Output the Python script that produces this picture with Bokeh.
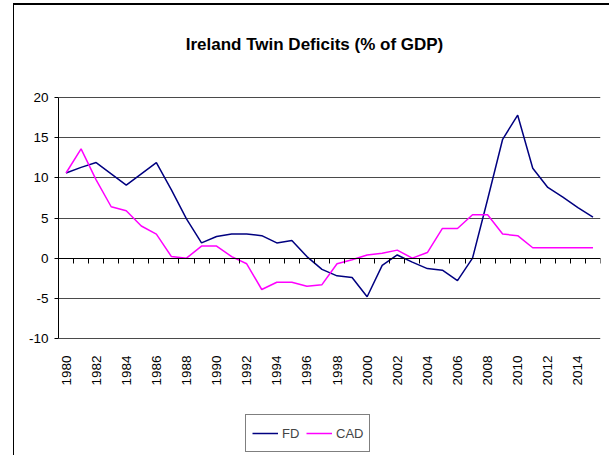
import math
from bokeh.plotting import figure
from bokeh.models import Range1d, FixedTicker, Label, Legend, LegendItem, LinearAxis
from bokeh.embed import file_html
from bokeh.resources import INLINE

# ---- data ----
years = list(range(1980, 2016))
fd = [10.6, 11.3, 11.9, 10.5, 9.1, 10.5, 11.9, 8.5, 4.9, 1.9,
      2.7, 3.0, 3.0, 2.8, 1.9, 2.2, 0.2, -1.4, -2.2, -2.4,
      -4.8, -0.9, 0.4, -0.5, -1.3, -1.5, -2.8, 0.0, 7.3, 14.8,
      17.8, 11.2, 8.8, 7.6, 6.3, 5.1]
cad = [10.6, 13.6, 9.75, 6.4, 5.9, 4.0, 3.0, 0.2, 0.0, 1.5,
       1.5, 0.2, -0.7, -3.9, -3.0, -3.0, -3.5, -3.3, -0.7, -0.2,
       0.4, 0.6, 1.0, 0.0, 0.7, 3.7, 3.7, 5.4, 5.4, 3.0,
       2.8, 1.3, 1.3, 1.3, 1.3, 1.3]
y_ticks = [-10, -5, 0, 5, 10, 15, 20]
x_label_years = years[::2]
title_text = "Ireland Twin Deficits (% of GDP)"
series_names = ["FD", "CAD"]

FONT = "Liberation Sans"

# ---- layout constants (page pixels) ----
PAGE_X, PAGE_Y = 14, 5            # figure position on the page
W, H = 610 - PAGE_X, 457 - PAGE_Y
PLOT_LEFT, PLOT_RIGHT = 58, 600   # plot-area box
PLOT_TOP, PLOT_BOTTOM = 97, 338
ppu = (PLOT_BOTTOM - PLOT_TOP) / (y_ticks[-1] - y_ticks[0])
y_top = y_ticks[-1] + (PLOT_TOP - PAGE_Y) / ppu
y_bottom = y_ticks[0] - (457 - PLOT_BOTTOM) / ppu

p = figure(width=W, height=H, output_backend="svg", toolbar_location=None,
           title=None, x_axis_type=None,
           x_range=Range1d(years[0] - 0.5, years[-1] + 0.5),
           y_range=Range1d(y_bottom, y_top),
           min_border_left=PLOT_LEFT - PAGE_X, min_border_right=610 - PLOT_RIGHT,
           min_border_top=0, min_border_bottom=0)
# chart-area border (top and left) as a shadow outside the figure box
p.styles = {"margin-left": f"{PAGE_X}px", "margin-top": f"{PAGE_Y}px",
            "box-shadow": "-1px -2px 0 0 #000000"}
p.outline_line_color = None
p.background_fill_color = "white"
p.border_fill_color = "white"

# horizontal grid
p.ygrid.ticker = FixedTicker(ticks=y_ticks)
p.ygrid.grid_line_color = "#4a4a4a"
p.ygrid.grid_line_width = 1

# y axis
p.yaxis.ticker = FixedTicker(ticks=y_ticks)
p.yaxis.major_label_overrides = {t: str(t) for t in y_ticks}
p.yaxis.bounds = (y_ticks[0], y_ticks[-1])
p.yaxis.axis_line_color = "black"
p.yaxis.major_tick_line_color = "black"
p.yaxis.major_tick_out = 4
p.yaxis.major_tick_in = 0
p.yaxis.minor_tick_line_color = None
p.yaxis.major_label_text_font = FONT
p.yaxis.major_label_text_font_size = "13.5px"
p.yaxis.major_label_text_color = "black"
p.yaxis.major_label_standoff = 6

# category axis at zero: line + boundary ticks, no labels
bounds = [y - 0.5 for y in years] + [years[-1] + 0.5]
zero_axis = LinearAxis(fixed_location=0, ticker=FixedTicker(ticks=bounds),
                       major_label_overrides={b: "" for b in bounds},
                       axis_line_color="black", axis_line_width=1,
                       major_tick_line_color="black", major_tick_out=5, major_tick_in=0,
                       minor_tick_line_color=None)
p.add_layout(zero_axis, "below")

# year labels below the plot area
label_axis = LinearAxis(fixed_location=y_ticks[0], ticker=FixedTicker(ticks=x_label_years),
                        axis_line_color=None, major_tick_line_color=None,
                        major_tick_out=0, major_tick_in=0, minor_tick_line_color=None,
                        major_label_orientation=math.pi / 2, major_label_standoff=17,
                        major_label_text_font=FONT, major_label_text_font_size="13.5px",
                        major_label_text_color="black")
p.add_layout(label_axis, "below")

# series
fd_r = p.line(years, fd, line_color="#000080", line_width=1.5)
cad_r = p.line(years, cad, line_color="#FF00FF", line_width=1.5)

legend = Legend(items=[LegendItem(label=series_names[0], renderers=[fd_r]),
                       LegendItem(label=series_names[1], renderers=[cad_r])],
                orientation="horizontal", location=(245 - PLOT_LEFT, 457 - 452),
                border_line_color="black", border_line_width=1,
                padding=6, spacing=4, glyph_width=26, glyph_height=24,
                label_standoff=4, margin=0, label_height=24,
                label_text_font=FONT, label_text_font_size="13px",
                background_fill_color="white", background_fill_alpha=1)
p.add_layout(legend, "center")

# title
p.add_layout(Label(x=314 - PLOT_LEFT, y=457 - 44, x_units="screen", y_units="screen",
                   text=title_text, text_font=FONT, text_font_style="bold",
                   text_font_size="17px", text_align="center",
                   text_baseline="alphabetic", text_color="black"))

open("out.html", "w").write(file_html(p, INLINE))
